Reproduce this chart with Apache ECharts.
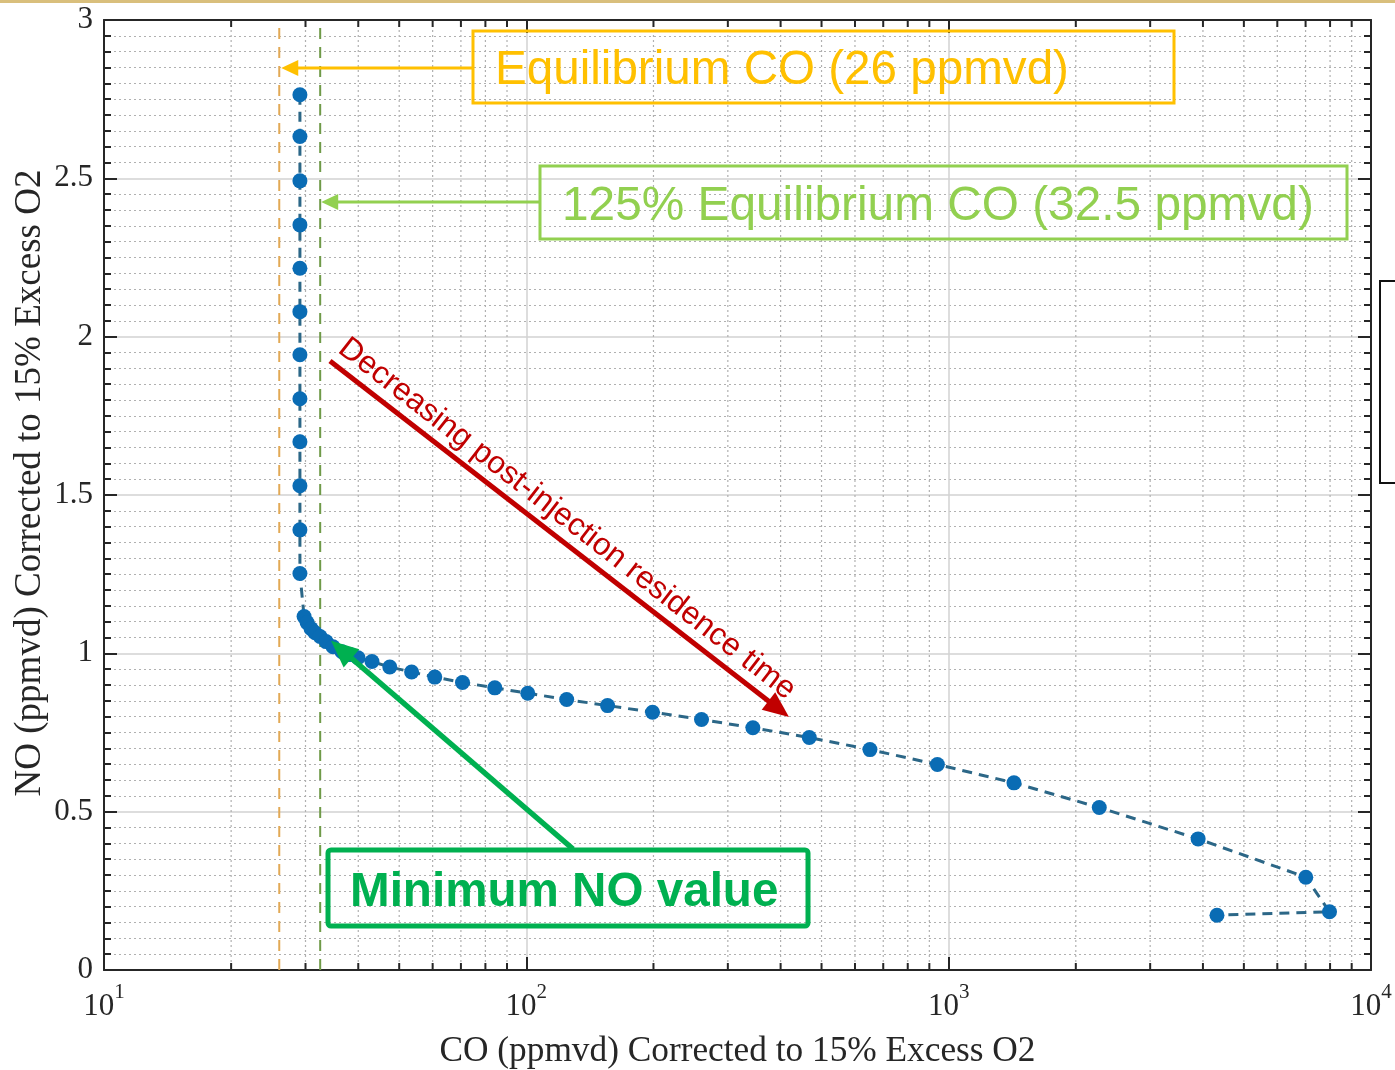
<!DOCTYPE html>
<html>
<head>
<meta charset="utf-8">
<script src="https://cdn.jsdelivr.net/npm/echarts@6/dist/echarts.min.js"></script>
<style>
  html, body { margin: 0; padding: 0; background: #ffffff; }
  #chart { width: 1395px; height: 1070px; }
</style>
</head>
<body>
<div id="chart"></div>
<script>
// CO (ppmvd, corrected to 15% O2) for each post-injection residence time
const coValues = [
  29.1, 29.1, 29.1, 29.1, 29.1, 29.1, 29.1, 29.1, 29.1, 29.1, 29.1, 29.1,
  29.77, 30.26, 30.93, 31.61, 32.48, 33.56, 34.86, 36.61, 38.24, 39.94,
  43.1, 47.5, 53.5, 60.7, 70.6, 84.2, 100.8, 124.6, 155.7, 199.0, 259.9,
  343.9, 467.7, 651.0, 940.4, 1427.6, 2273, 3897, 7008, 7976, 4318
];
// NO (ppmvd, corrected to 15% O2) at the same residence times
const noValues = [
  2.764, 2.632, 2.492, 2.353, 2.216, 2.079, 1.943, 1.804, 1.668, 1.529, 1.390, 1.252,
  1.116, 1.097, 1.078, 1.065, 1.053, 1.037, 1.021, 1.005, 0.996, 0.986,
  0.974, 0.957, 0.941, 0.925, 0.908, 0.891, 0.874, 0.854, 0.835, 0.814, 0.791,
  0.765, 0.734, 0.696, 0.649, 0.591, 0.513, 0.414, 0.293, 0.184, 0.173
];
// Equilibrium CO reference levels
const eqCO = 26;
const eqCO125 = 32.5;
// Axis ranges and ticks
const xRange = [10, 10000];
const yRange = [0, 3];
const yTickStep = 0.5;
const xMinorTicks = [
  20, 30, 40, 50, 60, 70, 80, 90,
  200, 300, 400, 500, 600, 700, 800, 900,
  2000, 3000, 4000, 5000, 6000, 7000, 8000, 9000
];
// Point at which the minimum NO arrow aims
const minNoPoint = [34.86, 1.021];

const SERIF = '"Liberation Serif", "Times New Roman", serif';
const SANS = '"Liberation Sans", Arial, sans-serif';
const INK = '#262626';
const GRID_MAJOR = '#d2d2d2';
const GRID_MINOR = '#b0b0b0';

const chart = echarts.init(document.getElementById('chart'), null, { renderer: 'canvas' });

const tickSide = (position, isLog, showLabel) => ({
  type: isLog ? 'log' : 'value',
  logBase: 10,
  position: position,
  min: isLog ? xRange[0] : yRange[0],
  max: isLog ? xRange[1] : yRange[1],
  axisLine: { show: true, onZero: false, lineStyle: { color: INK, width: 2 } },
  axisTick: { show: true, inside: true, length: 13, lineStyle: { color: INK, width: 2 } },
  splitLine: { show: false },
  axisLabel: { show: showLabel }
});

const option = {
  animation: false,
  backgroundColor: '#ffffff',
  grid: { left: 104, right: 24, top: 20, bottom: 100, containLabel: false, outerBoundsMode: 'none' },
  xAxis: [
    Object.assign(tickSide('bottom', true, true), {
      interval: 1,
      name: 'CO (ppmvd) Corrected to 15% Excess O2',
      nameLocation: 'middle',
      nameGap: 64,
      nameMoveOverlap: false,
      nameTextStyle: { fontFamily: SERIF, fontSize: 35.3, color: INK },
      splitLine: { show: true, lineStyle: { color: GRID_MAJOR, width: 1.5 } },
      axisLabel: {
        show: true,
        margin: 12,
        formatter: v => '{b|10}{s|' + Math.round(Math.log10(v)) + '}',
        rich: {
          b: { fontFamily: SERIF, fontSize: 31, color: INK, verticalAlign: 'bottom', padding: [9, 0, 0, 0] },
          s: { fontFamily: SERIF, fontSize: 21, color: INK, verticalAlign: 'top' }
        }
      }
    }),
    Object.assign(tickSide('top', true, false), { interval: 1 })
  ],
  yAxis: [
    Object.assign(tickSide('left', false, true), {
      interval: yTickStep,
      name: 'NO (ppmvd) Corrected to 15% Excess O2',
      nameLocation: 'middle',
      nameGap: 55,
      nameMoveOverlap: false,
      nameTextStyle: { fontFamily: SERIF, fontSize: 37, color: INK, padding: [0, 0, 0, 24] },
      minorTick: { show: true, splitNumber: 10, length: 7, lineStyle: { color: INK, width: 2 } },
      splitLine: { show: true, lineStyle: { color: GRID_MAJOR, width: 1.5 } },
      minorSplitLine: { show: true, lineStyle: { color: GRID_MINOR, width: 1.2, type: [2, 3] } },
      axisLabel: {
        show: true, margin: 11, fontFamily: SERIF, fontSize: 31, color: INK,
        formatter: v => String(v)
      }
    }),
    Object.assign(tickSide('right', false, false), {
      interval: yTickStep,
      minorTick: { show: true, splitNumber: 10, length: 7, lineStyle: { color: INK, width: 2 } }
    })
  ],
  series: [
    {
      // minor log gridlines plus their inward ticks on the bottom and top edges
      type: 'custom',
      xAxisIndex: 0,
      yAxisIndex: 0,
      silent: true,
      z: 1,
      data: xMinorTicks.map(v => [v, yRange[0]]),
      renderItem: (params, api) => {
        const v = api.value(0);
        const lo = api.coord([v, yRange[0]]);
        const hi = api.coord([v, yRange[1]]);
        const x = lo[0];
        return {
          type: 'group',
          children: [
            { type: 'line', shape: { x1: x, y1: hi[1], x2: x, y2: lo[1] },
              style: { stroke: GRID_MINOR, lineWidth: 1.2, lineDash: [2, 3] } },
            { type: 'line', shape: { x1: x, y1: lo[1], x2: x, y2: lo[1] - 7 },
              style: { stroke: INK, lineWidth: 2 } },
            { type: 'line', shape: { x1: x, y1: hi[1], x2: x, y2: hi[1] + 7 },
              style: { stroke: INK, lineWidth: 2 } }
          ]
        };
      }
    },
    {
      name: 'Equilibrium CO',
      type: 'line',
      data: [[eqCO, yRange[0]], [eqCO, yRange[1]]],
      showSymbol: false,
      silent: true,
      z: 2,
      lineStyle: { color: '#e2a955', width: 2, type: [11, 8] }
    },
    {
      name: '125% Equilibrium CO',
      type: 'line',
      data: [[eqCO125, yRange[0]], [eqCO125, yRange[1]]],
      showSymbol: false,
      silent: true,
      z: 2,
      lineStyle: { color: '#6f9a48', width: 2, type: [11, 8] }
    },
    {
      name: 'NO vs CO',
      type: 'line',
      data: coValues.map((c, i) => [c, noValues[i]]),
      symbol: 'circle',
      symbolSize: 15,
      showSymbol: true,
      z: 3,
      itemStyle: { color: '#0a6cb4' },
      lineStyle: { color: '#2c6787', width: 3, type: [10, 7] }
    }
  ]
};

chart.setOption(option);

// Annotations: arrow tips are placed from data values through the axes
const xPix = v => chart.convertToPixel({ xAxisIndex: 0 }, v);
const pt = (x, y) => chart.convertToPixel({ xAxisIndex: 0, yAxisIndex: 0 }, [x, y]);

function arrow(x1, y1, x2, y2, color, width, headLen, headHalf) {
  const dx = x2 - x1, dy = y2 - y1;
  const len = Math.sqrt(dx * dx + dy * dy);
  const ux = dx / len, uy = dy / len;
  const bx = x2 - ux * headLen, by = y2 - uy * headLen;
  const nx = -uy, ny = ux;
  return [
    { type: 'line', z: 100, shape: { x1: x1, y1: y1, x2: bx + ux * 2, y2: by + uy * 2 },
      style: { stroke: color, lineWidth: width } },
    { type: 'polygon', z: 100,
      shape: { points: [[x2, y2], [bx + nx * headHalf, by + ny * headHalf], [bx - nx * headHalf, by - ny * headHalf]] },
      style: { fill: color } }
  ];
}

const ORANGE = '#ffc000';
const LIGHT_GREEN = '#92d050';
const DARK_RED = '#c00000';
const GREEN = '#00b050';

const eqX = xPix(eqCO);
const eq125X = xPix(eqCO125);
const minPt = pt(minNoPoint[0], minNoPoint[1]);

const redTail = [330, 361];
const redTip = [789, 717];
const redAngle = Math.atan2(redTip[1] - redTail[1], redTip[0] - redTail[0]);

const graphics = [
  { type: 'rect', z: 100, shape: { x: 0, y: 0, width: 1395, height: 3 }, style: { fill: '#d9bf7c' } },
  { type: 'rect', z: 100, shape: { x: 1380, y: 281, width: 40, height: 202 },
    style: { fill: '#ffffff', stroke: '#111111', lineWidth: 2 } },

  { type: 'rect', z: 100, shape: { x: 473, y: 31, width: 701, height: 72 },
    style: { fill: 'none', stroke: ORANGE, lineWidth: 3 } },
  { type: 'text', z: 100, x: 495, y: 71,
    style: { text: 'Equilibrium CO (26 ppmvd)', font: '47.6px ' + SANS, fill: ORANGE, align: 'left', verticalAlign: 'middle' } },
  ...arrow(473, 68, eqX + 2, 68, ORANGE, 3, 17, 8),

  { type: 'rect', z: 100, shape: { x: 540, y: 166, width: 807, height: 73 },
    style: { fill: 'none', stroke: LIGHT_GREEN, lineWidth: 3 } },
  { type: 'text', z: 100, x: 562, y: 207,
    style: { text: '125% Equilibrium CO (32.5 ppmvd)', font: '47.8px ' + SANS, fill: LIGHT_GREEN, align: 'left', verticalAlign: 'middle' } },
  ...arrow(540, 202, eq125X + 1, 202, LIGHT_GREEN, 3, 17, 8),

  ...arrow(redTail[0], redTail[1], redTip[0], redTip[1], DARK_RED, 5, 26, 11),
  { type: 'text', z: 100, x: 567, y: 519, rotation: -redAngle,
    style: { text: 'Decreasing post-injection residence time', font: '31.6px ' + SANS, fill: DARK_RED, align: 'center', verticalAlign: 'middle' } },

  { type: 'rect', z: 100, shape: { x: 328, y: 850, width: 480, height: 76, r: 3 },
    style: { fill: 'none', stroke: GREEN, lineWidth: 5 } },
  { type: 'text', z: 100, x: 350, y: 893,
    style: { text: 'Minimum NO value', font: 'bold 47.6px ' + SANS, fill: GREEN, align: 'left', verticalAlign: 'middle' } },
  ...arrow(573, 849, minPt[0] - 2, minPt[1] - 6, GREEN, 5.5, 27, 12)
];

chart.setOption({ graphic: { elements: graphics } });
</script>
</body>
</html>
